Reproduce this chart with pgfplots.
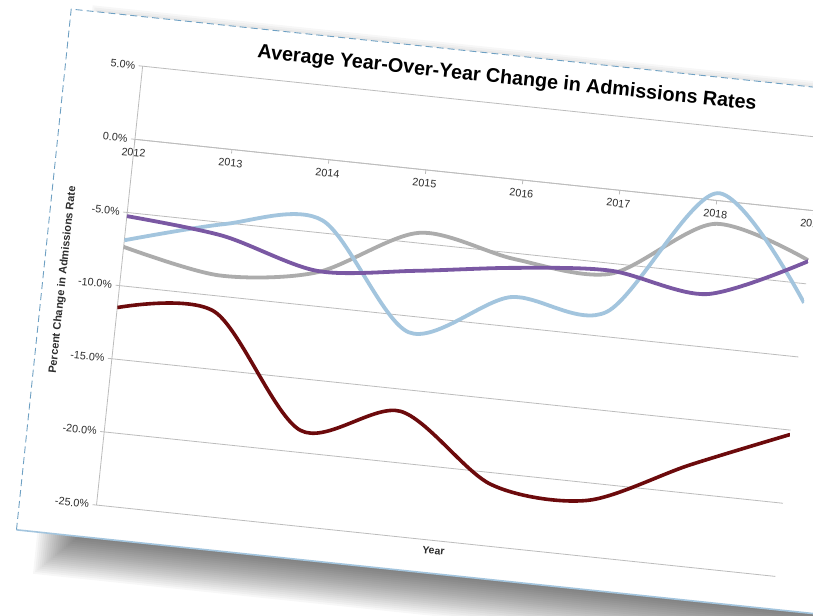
\documentclass[border=0pt]{standalone}
\usepackage{graphicx}
\usepackage{fontspec}
\setmainfont{Liberation Sans}
\usepackage{pgfplots}
\pgfplotsset{compat=1.18}

\definecolor{maroonline}{RGB}{108,10,12}
\definecolor{blueline}{RGB}{163,197,222}
\definecolor{purpleline}{RGB}{122,88,163}
\definecolor{grayline}{RGB}{172,172,172}
\definecolor{gridgray}{RGB}{188,188,188}
\definecolor{labelgray}{RGB}{45,45,45}
\definecolor{cardblue}{RGB}{110,160,195}

\begin{document}
\rotatebox{-6}{%
\begin{tikzpicture}
  % card with a soft shadow under it
  \begin{scope}[x=1bp,y=1bp]
    \foreach \i in {0,...,22}
      \fill[black, opacity=0.03] (-12-2*\i,-398.8-2*\i) rectangle (870+2*\i,84.8+2*\i);
    \fill[white] (-77,-400.8) rectangle (810,122.8);
    \draw[cardblue, line width=0.9bp, dash pattern=on 7bp off 4bp] (-77,-400.8) -- (-77,122.8) -- (810,122.8);
    \draw[blueline, line width=1.6bp] (-77,-400.8) -- (810,-400.8);
  \end{scope}

  \begin{axis}[
    at={(0bp,-367.8bp)}, anchor=south west,
    scale only axis, width=682.5bp, height=441.3bp,
    xmin=2012, xmax=2019, ymin=-25, ymax=5,
    axis x line=middle, axis y line=left,
    hide obscured x ticks=false, hide obscured y ticks=false,
    axis line style={-, draw=gridgray, line width=0.8bp},
    xtick={2012,2013,2014,2015,2016,2017,2018,2019},
    xticklabels={2012,2013,2014,2015,2016,2017,2018,2019},
    ytick={-25,-20,-15,-10,-5,0,5},
    yticklabels={-25.0\%,-20.0\%,-15.0\%,-10.0\%,-5.0\%,0.0\%,5.0\%},
    ymajorgrids, grid style={gridgray, line width=0.8bp},
    tick align=outside, major tick length=4bp,
    tick style={gridgray, line width=0.8bp},
    ticklabel style={font=\fontsize{10.8}{12}\selectfont, text=labelgray},
    xticklabel style={yshift=-2bp},
    title={Average Year-Over-Year Change in Admissions Rates},
    title style={at={(axis description cs:0.533,1)}, anchor=center, yshift=19.5bp,
      font=\fontsize{19.8}{22}\selectfont\bfseries},
    xlabel={Year},
    xlabel style={at={(axis description cs:0.498,-0.0231)}, anchor=center,
      font=\fontsize{10.5}{12}\selectfont\bfseries, text=labelgray},
    ylabel={Percent Change in Admissions Rate},
    ylabel style={at={(axis description cs:-0.0835,0.5)}, anchor=center,
      font=\fontsize{11}{12}\selectfont\bfseries, text=labelgray},
  ]
    \addplot[grayline, line width=3.8bp, smooth] coordinates {
      (2012,-7.35) (2013,-8.6) (2014,-7.7) (2015,-4.3)
      (2016,-5.4) (2017,-5.7) (2018,-1.6) (2019,-3.4)};
    \addplot[blueline, line width=3.8bp, smooth] coordinates {
      (2012,-6.9) (2013,-5.1) (2014,-4.15) (2015,-11.1)
      (2016,-8.0) (2017,-8.3) (2018,0.5) (2019,-6.3)};
    \addplot[purpleline, line width=3.8bp, smooth] coordinates {
      (2012,-5.25) (2013,-5.9) (2014,-7.6) (2015,-6.9)
      (2016,-6.0) (2017,-5.5) (2018,-6.4) (2019,-3.45)};
    \addplot[maroonline, line width=3.6bp, smooth] coordinates {
      (2012,-11.5) (2013,-11.1) (2014,-18.5) (2015,-16.5)
      (2016,-20.8) (2017,-21.2) (2018,-18.1) (2019,-15.3)};
  \end{axis}

  \pgfresetboundingbox
  \useasboundingbox (-92.7bp,-409.1bp) rectangle (668.1bp,130.3bp);
\end{tikzpicture}}
\end{document}
